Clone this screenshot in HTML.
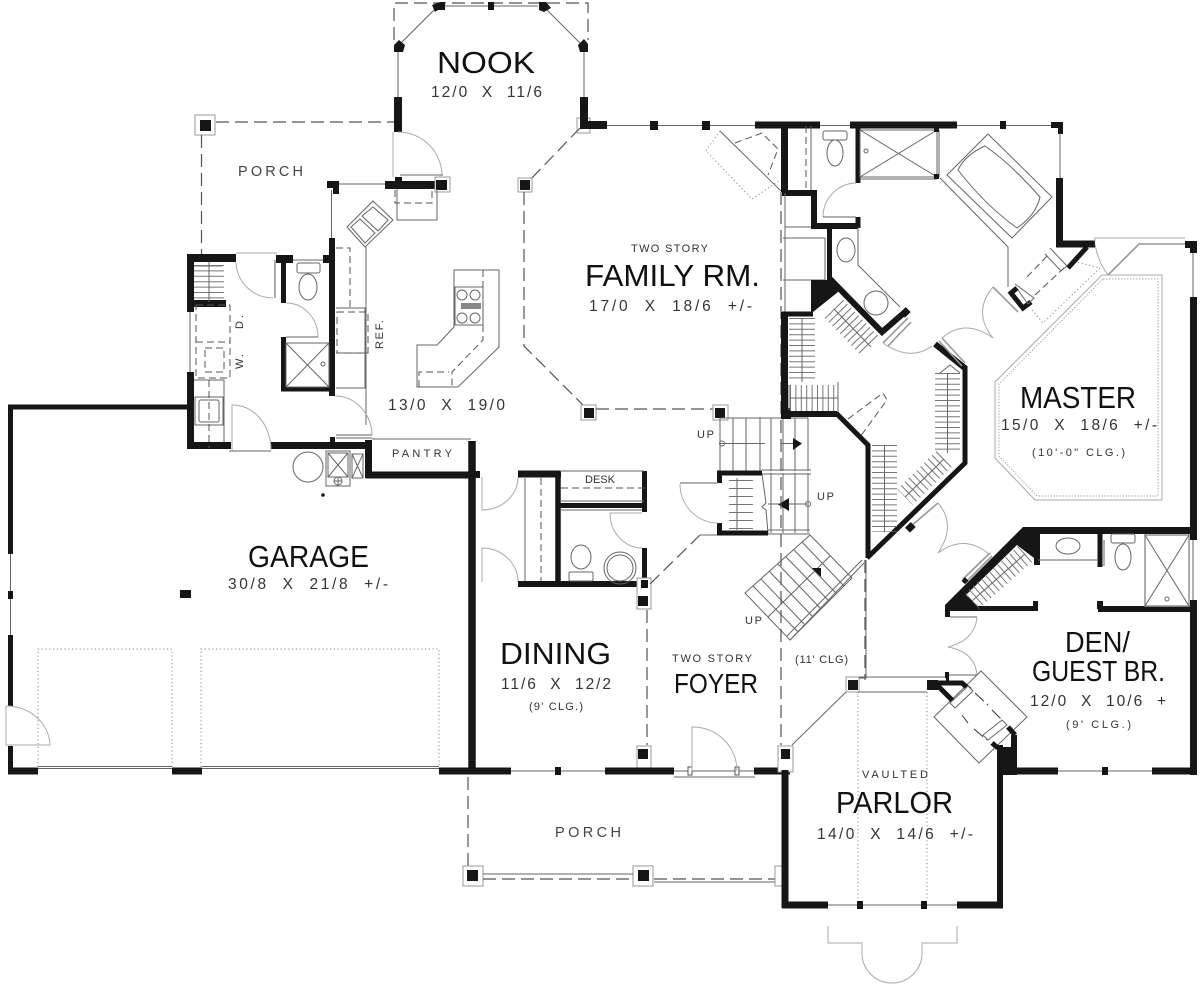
<!DOCTYPE html>
<html><head><meta charset="utf-8"><title>Floor Plan</title>
<style>
html,body{margin:0;padding:0;background:#fff}
svg{display:block}
.w{stroke:#161616;fill:none;stroke-linecap:butt;stroke-linejoin:miter}
.t{stroke:#666;stroke-width:1;fill:none}
.g{stroke:#aaa;stroke-width:1;fill:none}
.g2{stroke:#999;stroke-width:1.6;fill:none}
.d{stroke:#555;stroke-width:1.2;fill:none;stroke-dasharray:13 6}
.ds{stroke:#555;stroke-width:1;fill:none;stroke-dasharray:7 4}
.o{stroke:#888;stroke-width:1;fill:none;stroke-dasharray:1.2 2.6}
.h{stroke:#777;fill:none;stroke-dasharray:1 4.4}
.f{fill:#161616;stroke:none}
.b{fill:#fff;stroke:#999;stroke-width:1}
text{font-family:"Liberation Sans",sans-serif;fill:#111}
.n{font-size:31px}
.s{font-size:15.5px;fill:#333}
.m{font-size:11px;fill:#333}
.l{font-size:14.5px;fill:#444}
</style></head><body>
<svg width="1200" height="986" viewBox="0 0 1200 986" xmlns="http://www.w3.org/2000/svg">
<rect width="1200" height="986" fill="#fff"/>

<!-- NOOK -->
<path class="d" d="M394 40V3H588V40"/>
<path class="t" d="M443 6H538M437 7L398 46M544 7L583 46M398 50V97M584 50V97"/>
<rect class="f" x="488" y="2" width="6" height="8"/>
<path class="f" d="M432 5L440 2H445V10H438L435 12ZM539 2H546L551 8L544 12L539 10ZM394 45L399 40L405 45L403 52H394ZM578 45L584 39L588 44V52H580Z"/>
<path class="w" stroke-width="8" d="M398 97V132"/>
<path class="g" d="M393 132V177M398 132A44 44 0 0 1 442 176"/>
<path class="g2" d="M400 175H443"/>

<!-- top wall -->
<path class="t" d="M607 125.500H755"/>
<rect class="f" x="650" y="121" width="8" height="9"/><rect class="f" x="702" y="121" width="8" height="9"/>
<rect class="b" x="577" y="118" width="13" height="15"/>
<path class="w" stroke-width="8" d="M584 97V129M580 125H607"/>
<path class="w" stroke-width="7" d="M755 125H820M850 125H957"/>
<path class="t" d="M957 125.500H1051M820 125.500H850"/>
<rect class="f" x="1000" y="121" width="6" height="8"/>
<path class="f" d="M1051 122H1063V134H1058V128H1051Z"/>
<path class="t" d="M1060 133V178"/>
<path class="w" stroke-width="7" d="M1059.500 178V247M1056 244H1095"/>
<path class="w" stroke-width="5" d="M1087 247L1068 268"/>

<!-- fireplace -->
<path class="t" d="M720 131L782 192"/>
<path class="ds" d="M735 143L762 133L778 149L768 175"/>
<path class="o" d="M720 131L706 151L752 199L780 180"/>

<!-- Family octagon -->
<path class="d" d="M580 128L528 182"/>
<rect class="b" x="518" y="178" width="14" height="14"/><rect class="f" x="520" y="180" width="10" height="10"/>
<path class="d" d="M524 192V346L583 405"/>
<rect class="b" x="581" y="405" width="15" height="15"/><rect class="f" x="584" y="408" width="10" height="10"/>
<path class="d" d="M596 409H713"/>
<rect class="b" x="713" y="405" width="15" height="15"/><rect class="f" x="715" y="408" width="10" height="10"/>

<!-- Porch roof NW -->
<rect class="b" x="195" y="115" width="20" height="20"/><rect class="f" x="200" y="120" width="11" height="11"/>
<path class="d" d="M216 122H394M201.500 135V255"/>

<!-- Kitchen top wall -->
<path class="f" d="M327 181H339V194H333V188H327Z"/>
<path class="t" d="M339 184H385M331.500 190V238"/>
<path class="w" stroke-width="8" d="M385 185H447"/>
<rect class="f" x="395" y="177" width="7" height="6"/>
<rect class="b" x="435" y="177" width="15" height="15"/>
<rect class="f" x="436" y="180" width="11" height="10"/>
<path class="t" d="M397 189V220H437V189"/>
<path class="ds" d="M395 190V203H432V190"/>
<path class="t" d="M373 201L393 220L365 247L347 227Z"/>
<path class="t" d="M373 207L388 220L378 231L362 216ZM360 219L375 233L365 243L351 227Z"/>
<path class="t" d="M366 247V425"/>

<!-- kitchen walls -->
<path class="w" stroke-width="6" d="M332 238V396"/>
<rect class="f" x="323" y="255" width="8" height="8"/>
<path class="ds" d="M336 248H350V310"/>
<path class="t" d="M336 308H365V388H336M336 353H368"/>
<path class="ds" d="M337 312H368V353H337Z"/>
<text class="m" transform="translate(383 349) rotate(-90)" textLength="29" lengthAdjust="spacing">REF.</text>

<!-- Island -->
<path class="t" d="M454 270H499V347L458 387H417V345H437L454 327Z"/>
<rect class="t" x="455" y="287" width="28" height="38"/>
<circle class="t" cx="462" cy="295" r="5"/><circle class="t" cx="475" cy="295" r="5"/>
<circle class="t" cx="462" cy="318" r="5"/><circle class="t" cx="475" cy="318" r="5"/>
<rect x="461" y="303" width="20" height="6" fill="#888"/>
<path class="ds" d="M483 270V340L452 372V387"/>
<path class="ds" d="M419 387V372H449"/>

<!-- Laundry / bath -->
<path class="w" stroke-width="8" d="M187 258H236"/>
<path class="w" stroke-width="7" d="M190.500 256V312M193 303.500H226"/>
<path class="w" stroke-width="7" d="M190.500 372V449"/>
<path class="w" stroke-width="7" d="M187 445.500H231M271 445.500H372"/>
<path class="w" stroke-width="8" d="M276 259H293"/>
<path class="w" stroke-width="5" d="M283.500 260V303"/>
<path class="w" stroke-width="5" d="M283.500 337V391M281 389H335"/>
<path class="t" d="M194 266H222"/>
<path class="h" stroke-width="30" d="M209 265V302"/>
<path class="t" d="M209 262V302"/>
<path class="ds" d="M196 305H230V378H196ZM205 348H224V372H205ZM196 342H230"/>
<path class="t" d="M190 312V372"/>
<path class="g" d="M236 253H277M236 262A37 37 0 0 0 273 298"/><path class="g2" d="M275 260V298"/>
<path class="t" d="M293 260H323"/>
<rect class="t" x="297" y="263" width="23" height="10" rx="2"/><ellipse class="t" cx="308" cy="287" rx="9" ry="13"/>
<path class="g" d="M286 303A32 34 0 0 1 318 337"/><path class="t" d="M286 337H318"/>
<rect class="t" x="286" y="343" width="43" height="44"/><path class="t" d="M286 343L329 387M329 343L286 387"/>
<circle class="t" cx="323" cy="364" r="2"/>
<text class="m" transform="translate(243 369) rotate(-90)" textLength="15" lengthAdjust="spacing">W.</text>
<text class="m" transform="translate(243 329) rotate(-90)" textLength="14" lengthAdjust="spacing">D.</text>
<path class="t" d="M194 380H224V442"/><rect class="t" x="195" y="397" width="28" height="28"/><rect class="t" x="199" y="400" width="20" height="22" rx="2"/>
<path class="ds" d="M209 380V448"/>
<path class="g" d="M232 450V405A38 45 0 0 1 271 450"/><path class="g2" d="M229 451H271"/>
<path class="g" d="M335 396A37 40 0 0 1 372 435"/><path class="t" d="M336 435H372M336 438H372"/>
<rect class="f" x="330" y="437" width="5" height="5"/>

<!-- Garage -->
<path class="w" stroke-width="5" d="M187 407H10.500V554"/>
<path class="t" d="M10.500 554V636"/>
<rect class="f" x="8" y="591" width="5" height="8"/>
<path class="w" stroke-width="5" d="M10.500 635V706"/>
<path class="w" stroke-width="5" d="M10.500 746V772"/>
<path class="w" stroke-width="7" d="M8 771H38M172 771H202M439 771H511"/>
<path class="g" d="M6 706V745H50M6 706A44 40 0 0 1 50 745"/>
<path class="o" d="M38 767V649H172V767M201 767V649H439V767"/>
<path class="t" d="M38 766.500H172M38 768.500H172M202 766.500H439M202 768.500H439"/>
<rect class="f" x="180" y="590" width="11" height="8"/>
<circle class="f" cx="323" cy="495" r="1.800"/>
<circle class="t" cx="308" cy="467" r="15"/>
<rect class="t" x="326" y="451" width="24" height="35"/>
<rect class="t" x="328" y="453" width="20" height="24"/><path class="t" d="M328 453L348 477M348 453L328 477"/>
<circle class="t" cx="338" cy="481" r="4"/><path class="t" d="M334 481H342M338 477V485"/>
<rect class="t" x="352" y="454" width="11" height="24"/><path class="t" d="M352 454L363 478M363 454L352 478"/>
<path class="w" stroke-width="7" d="M368.500 440V478M366 475H472"/>
<path class="t" d="M372 439H471"/>
<path class="w" stroke-width="7.500" d="M472 441V771"/>
<rect class="f" x="468" y="471" width="12" height="7"/>

<!-- Dining doors, closets -->
<path class="g" d="M482 477V510A36 33 0 0 0 518 477M482 582V548A36 34 0 0 1 518 582"/>
<path class="w" stroke-width="7" d="M518 474H561"/>
<path class="w" stroke-width="5.500" d="M558 472V586"/>
<path class="w" stroke-width="6" d="M518 584H647"/>
<path class="w" stroke-width="5" d="M560 505.500H647"/>
<path class="w" stroke-width="5" d="M644.500 471V512M644.500 548V587"/>
<path class="t" d="M525 478V581M560 471H644M560 501H644M560 510H642"/>
<path class="ds" d="M541 478V581M561 488H645"/>
<text class="m" x="585" y="483" textLength="30" lengthAdjust="spacing">DESK</text>
<path class="g" d="M610 513A32 35 0 0 0 642 548M610 513H642"/>
<ellipse class="t" cx="581" cy="557" rx="10" ry="12"/><rect class="t" x="569" y="572" width="24" height="9" rx="1.500"/>
<circle class="t" cx="620" cy="568" r="16"/><circle class="t" cx="620" cy="568" r="13"/>
<rect class="b" x="637" y="578" width="14" height="31"/><rect class="f" x="638" y="596" width="10" height="10"/><rect class="f" x="641" y="580" width="7" height="8"/>
<path class="d" d="M647 610V745"/>
<path class="d" d="M700 535L650 584"/>
<rect class="b" x="637" y="746" width="14" height="22"/><rect class="f" x="638" y="749" width="10" height="10"/>

<!-- South wall -->
<path class="t" d="M511 771H605M674 771H754"/>
<rect class="f" x="555" y="767" width="6" height="8"/>
<path class="w" stroke-width="7" d="M605 771H674M754 771H790"/>
<rect x="688" y="767" width="4" height="8" fill="#fff" stroke="#555"/><rect x="735" y="767" width="4" height="8" fill="#fff" stroke="#555"/>
<path class="g" d="M692 771V727A44 44 0 0 1 737 771"/>
<path class="t" d="M674 777H755"/>
<!-- Porch -->
<path class="d" d="M468 777V866"/>
<rect class="b" x="463" y="866" width="20" height="20"/><rect class="f" x="467" y="870" width="11" height="11"/>
<rect class="b" x="633" y="866" width="20" height="20"/><rect class="f" x="638" y="870" width="11" height="11"/>
<path class="t" d="M483 874H633"/><path class="d" d="M483 879H633M654 879H775"/><path class="t" d="M654 882H775"/>
<rect class="b" x="775" y="866" width="8" height="20"/>

<!-- Stairs center -->
<path class="t" d="M720 418V471"/>
<path class="t" d="M733 418V471M746 418V471M760 418V471M771 418V471M783 418V471M795 418V471M808 418V471M720 418H808M720 443.500H765"/>
<path class="t" d="M762 470H811M762 474H811M781 443.500H798"/>
<circle class="t" cx="722" cy="443.500" r="2.500"/>
<path class="f" d="M793 438L802 443.500L793 450Z"/>
<path class="t" d="M771 473V533M783 473V533M795 473V533M808 473V533M768 530H810M768 534H810M768 504H807"/>
<path class="f" d="M789 498V511L778 504.500Z"/>
<circle class="t" cx="808" cy="504" r="2.500"/>
<path class="t" d="M762 474L766 503L762 507L766 510L768 533"/>
<path class="w" stroke-width="5" d="M717 473H762M719.500 471V483M717 533H768M719.500 523V535"/>
<path class="h" stroke-width="24" style="stroke-dasharray:1 7" d="M741 480V530"/>
<path class="t" d="M737 478V530"/>
<path class="g" d="M680 484A38 39 0 0 0 718 523"/>
<path class="g2" d="M680 483H718"/>
<path class="t" d="M700 535H717"/>
<!-- Diagonal stair -->
<path class="t" d="M810 535L745 593L790 640L852 578L810 535"/>
<path class="t" d="M790 640L864 563M787 636L862 560"/>
<path class="t" d="M802 542L844 586M794 550L836 593M786 557L829 601M778 564L821 609M769 571L813 617M761 579L805 625M753 586L798 632"/>
<path class="t" d="M830 556L768 617"/>
<path class="f" d="M812 568H821V577Z"/>

<!-- Central dash -->
<path class="d" d="M781 192V745"/>
<path class="d" d="M865 560V680"/>

<!-- Upper central walls -->
<path class="w" stroke-width="7" d="M784.500 125V192"/>
<path class="w" stroke-width="6" d="M782 193H814V226H858"/>
<path class="w" stroke-width="5" d="M858 217V228M858 125V183"/>
<path class="ds" d="M806 126V190"/>
<path class="t" d="M811 126V190"/>
<rect class="t" x="823" y="131" width="24" height="9" rx="2"/><ellipse class="t" cx="835" cy="153" rx="8" ry="13"/>
<path class="g" d="M856 183A34 34 0 0 0 823 217"/><path class="t" d="M823 217H856"/>
<rect class="t" x="860" y="130" width="77" height="47"/><path class="t" d="M860 130L937 177M937 130L860 177M939 130V177M860 179H937"/>
<circle class="t" cx="866" cy="151" r="2"/>
<rect class="f" x="934" y="127" width="5" height="5"/><rect class="f" x="934" y="174" width="5" height="5"/>
<path class="t" d="M785 193V313M785 227H811M783 238H825V280H783M785 280H811"/>
<path class="f" d="M811 280H832L838 292L813 312H811Z"/>
<path class="w" stroke-width="5" d="M829.500 227V280"/>
<path class="w" stroke-width="6" d="M830 279L882 332L905 312"/>
<rect class="f" x="902" y="308" width="7" height="8" transform="rotate(45 905 312)"/>
<path class="t" d="M858 227V265L900 307"/>
<ellipse class="t" cx="846" cy="250" rx="9" ry="12"/>
<ellipse class="t" cx="876" cy="303" rx="12" ry="12"/>
<path class="w" stroke-width="7" d="M784.500 312V417"/>
<path class="w" stroke-width="5" d="M782 314H813"/>
<path class="w" stroke-width="6" d="M781 414H837"/>
<rect class="f" x="781" y="408" width="10" height="11"/>
<path class="w" stroke-width="5" d="M836 413L868 445V558"/>
<path class="w" stroke-width="5" d="M867 558L965 463V367"/>
<path class="w" stroke-width="6" d="M935 344L966 369"/>
<path class="t" d="M789 410V385M838 382V412"/>
<path class="h" stroke-width="26" d="M802 318V382"/><path class="t" d="M802 318V382"/>
<path class="h" stroke-width="26" d="M790 398H838"/><path class="t" d="M790 398H838"/>
<path class="h" stroke-width="26" d="M834 309L871 347"/><path class="t" d="M834 309L871 347"/>
<path class="h" stroke-width="25" d="M947.500 373V453"/><path class="t" d="M947.500 373V453"/>
<path class="h" stroke-width="22" d="M944 459L905 497"/><path class="t" d="M944 459L905 497"/>
<path class="h" stroke-width="25" d="M884.500 445V532"/><path class="t" d="M884.500 445V532"/>
<path class="t" d="M940 373L950 365L960 373"/>
<path class="ds" d="M848 419L883 393L887 400L860 437"/>

<!-- Master doors -->
<path class="g2" d="M883 343L908 318M888 346L911 322"/>
<path class="g" d="M883 343Q910 362 932 346"/>
<path class="g2" d="M942 338L965 363M939 341L962 366"/>
<path class="g" d="M942 338Q965 318 993 338M993 338Q972 312 993 287"/>
<path class="g2" d="M993 287L1018 312"/>
<!-- Tub -->
<path class="t" d="M988 134L1052 197L1012 238L947 175Z"/>
<path class="t" d="M985 146Q1010 163 1040 197Q1036 215 1017 228Q985 205 958 170Q965 155 985 146Z"/>
<path class="t" d="M940 178L1008 247V287"/>
<!-- Closet -->
<path class="w" stroke-width="5" d="M1017 288L1011 293L1023 308L1031 302"/>
<path class="ds" d="M1027 277L1050 253M1035 295L1065 267"/>
<path class="t" d="M1050 248L1067 266L1061 271L1045 254M1015 284L1034 298L1028 304L1018 290"/>
<path class="o" d="M1032 310L1043 323L1100 268L1077 262"/>

<!-- Master ceiling -->
<path class="g" d="M1102 275H1162V500H1035L995 458V382Z"/>
<path class="g" style="stroke-dasharray:1.5 1.5" d="M1103 279H1158V496H1037L999 456V384Z"/>
<!-- NE window -->
<path class="f" d="M1185 241H1197V253H1190V248H1185Z"/>
<path class="t" d="M1193 253V297M1140 244H1185"/>
<path class="g2" d="M1108 275L1140 243"/>
<path class="g" d="M1095 242V238H1185M1095 244Q1098 262 1108 275"/>
<path class="w" stroke-width="7" d="M1193.500 297V540"/>
<!-- Den -->
<path class="f" d="M945 605L1023 527H1190V534H1040V565H1034V558L1017 545L966 595L978 606H1033V601H1038V611H950V617H945Z"/>
<path class="h" stroke-width="21" d="M1025 554L972 601"/>
<path class="t" d="M1025 554L972 601"/>
<path class="w" stroke-width="5" d="M1100 530V567"/>
<path class="w" stroke-width="6" d="M1098 609H1190M1100 601V609"/>
<path class="t" d="M1038 560H1098M1104 540V566"/>
<ellipse class="t" cx="1068" cy="546" rx="12" ry="8"/>
<rect class="t" x="1111" y="534" width="24" height="9" rx="2"/><ellipse class="t" cx="1123" cy="557" rx="8" ry="13"/>
<rect class="g2" x="1145" y="535" width="44" height="71"/><path class="t" d="M1145 535L1189 606M1189 535L1145 606"/>
<circle class="t" cx="1167" cy="599" r="2"/>
<path class="t" d="M1193 540V600"/>
<path class="w" stroke-width="7" d="M1193.500 600V775M1194 771H1152M1058 771H1017"/>
<path class="t" d="M1058 771H1152"/>
<rect class="f" x="1102" y="767" width="6" height="8"/>
<path class="g2" d="M910 527L938 503M963 579L990 553M966 582L992 556"/>
<rect class="f" x="963" y="578" width="5" height="5" transform="rotate(45 965 580)"/>
<path class="g" d="M938 503Q957 525 938 553Q965 533 990 555"/>
<rect class="f" x="907" y="523" width="7" height="8" transform="rotate(45 910 527)"/>
<path class="g2" d="M950 617H977"/>
<path class="g" d="M977 617Q975 640 948 647Q975 652 977 675"/>
<path class="t" d="M945 675H977"/>
<rect class="f" x="945" y="672" width="4" height="6"/>

<!-- Parlor -->
<rect class="b" x="846" y="677" width="13" height="15"/><rect class="f" x="848" y="680" width="10" height="10"/>
<path class="t" d="M859 677H945M859 692H927M846 692L792 745M859 678H866V560"/>
<path class="o" d="M858 692V900M927 692V900"/>
<path class="t" d="M981 671L1027 717L979 763L934 717Z"/>
<rect class="f" x="927" y="680" width="11" height="10"/>
<rect class="f" x="946" y="676" width="3" height="6"/>
<path class="w" stroke-width="5" d="M936 684L955 703M937 683H962L970 690"/>
<path class="t" d="M955 708L973 691L968 686L950 703ZM988 740L1007 725L1002 720L983 735Z" style="fill:#fff"/>
<path class="ds" style="stroke:#333;stroke-dasharray:12 4" d="M975 693L988 705M992 710L1002 720M962 715L968 723M974 729L987 740"/>
<path class="w" stroke-width="5" d="M1008 727L1015 735M992 743L998 748"/>
<path class="f" d="M997 747H1011V735H1017V775H997Z"/>
<rect class="b" x="778" y="746" width="15" height="26"/><rect class="f" x="781" y="749" width="9" height="10"/>
<path class="w" stroke-width="7" d="M1000 771H1058"/>
<path class="w" stroke-width="7" d="M785 770V908M782 905H828M957 905H1003"/>
<path class="w" stroke-width="6" d="M1000 745V908"/>
<path class="t" d="M828 905H957"/>
<rect class="f" x="857" y="901" width="6" height="8"/><rect class="f" x="921" y="901" width="6" height="8"/>
<path class="g" d="M828 926V943H862V953A30 30 0 0 0 922 953V943H957V926"/>

<!-- TEXT -->
<text class="n" x="437" y="73" textLength="98" lengthAdjust="spacingAndGlyphs">NOOK</text>
<text class="s" x="431" y="97" textLength="111" lengthAdjust="spacing">12/0 &#160;X &#160;11/6</text>
<text class="l" x="238" y="176" textLength="65" lengthAdjust="spacing">PORCH</text>
<text class="m" x="631" y="252" textLength="77" lengthAdjust="spacing">TWO STORY</text>
<text class="n" x="585" y="286" textLength="175" lengthAdjust="spacingAndGlyphs">FAMILY RM.</text>
<text class="s" x="589" y="311" textLength="163" lengthAdjust="spacing">17/0 &#160;X &#160;18/6 &#160;+/-</text>
<text class="s" x="388" y="410" textLength="117" lengthAdjust="spacing">13/0 &#160;X &#160;19/0</text>
<text class="m" x="392" y="457" textLength="60" lengthAdjust="spacing">PANTRY</text>
<text class="m" x="697" y="438" textLength="17" lengthAdjust="spacing">UP</text>
<text class="m" x="817" y="500" textLength="17" lengthAdjust="spacing">UP</text>
<text class="m" x="745" y="624" textLength="17" lengthAdjust="spacing">UP</text>
<text class="n" x="248" y="567" textLength="121" lengthAdjust="spacingAndGlyphs">GARAGE</text>
<text class="s" x="228" y="589" textLength="160" lengthAdjust="spacing">30/8 &#160;X &#160;21/8 &#160;+/-</text>
<text class="n" x="500" y="664" textLength="111" lengthAdjust="spacingAndGlyphs">DINING</text>
<text class="s" x="501" y="689" textLength="110" lengthAdjust="spacing">11/6 &#160;X &#160;12/2</text>
<text class="m" x="529" y="710" textLength="54" lengthAdjust="spacing">(9' CLG.)</text>
<text class="m" x="672" y="662" textLength="80" lengthAdjust="spacing">TWO STORY</text>
<text class="n" style="font-size:28px" x="674" y="693" textLength="84" lengthAdjust="spacingAndGlyphs">FOYER</text>
<text class="m" x="795" y="663" textLength="53" lengthAdjust="spacing">(11' CLG)</text>
<text class="n" x="1020" y="408" textLength="116" lengthAdjust="spacingAndGlyphs">MASTER</text>
<text class="s" x="1001" y="430" textLength="156" lengthAdjust="spacing">15/0 &#160;X &#160;18/6 &#160;+/-</text>
<text class="m" x="1032" y="456" textLength="93" lengthAdjust="spacing">(10'-0" CLG.)</text>
<text class="n" style="font-size:29px" x="1065" y="652" textLength="65" lengthAdjust="spacingAndGlyphs">DEN/</text>
<text class="n" style="font-size:29px" x="1032" y="681" textLength="133" lengthAdjust="spacingAndGlyphs">GUEST BR.</text>
<text class="s" x="1030" y="706" textLength="136" lengthAdjust="spacing">12/0 &#160;X &#160;10/6 &#160;+</text>
<text class="m" x="1066" y="728" textLength="65" lengthAdjust="spacing">(9' CLG.)</text>
<text class="m" x="862" y="778" textLength="66" lengthAdjust="spacing">VAULTED</text>
<text class="n" x="836" y="813" textLength="117" lengthAdjust="spacingAndGlyphs">PARLOR</text>
<text class="s" x="817" y="839" textLength="156" lengthAdjust="spacing">14/0 &#160;X &#160;14/6 &#160;+/-</text>
<text class="l" x="555" y="837" textLength="66" lengthAdjust="spacing">PORCH</text>
</svg>
</body></html>
